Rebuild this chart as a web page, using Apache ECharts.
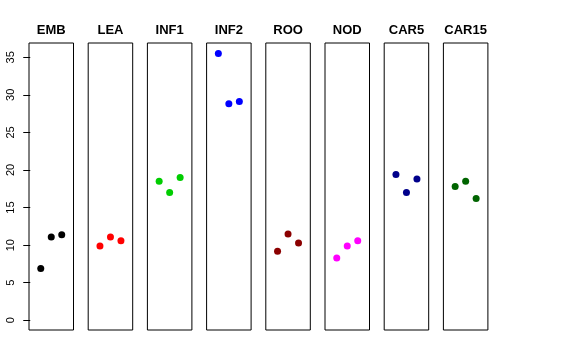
<!DOCTYPE html>
<html>
<head>
<meta charset="utf-8">
<script src="https://cdn.jsdelivr.net/npm/echarts@6/dist/echarts.min.js"></script>
<style>html,body{margin:0;padding:0;background:#fff}#c{width:576px;height:360px}</style>
</head>
<body>
<div id="c"></div>
<script>
const categories = ['EMB','LEA','INF1','INF2','ROO','NOD','CAR5','CAR15'];
const colors = ['#000000','#FF0000','#00CD00','#0000FF','#8B0000','#FF00FF','#00008B','#006400'];
const replicate = [1, 2, 3];
const values = [
  [6.9, 11.1, 11.4],
  [9.9, 11.1, 10.6],
  [18.5, 17.0, 19.0],
  [35.5, 28.8, 29.1],
  [9.2, 11.5, 10.3],
  [8.3, 9.9, 10.6],
  [19.4, 17.0, 18.8],
  [17.8, 18.5, 16.2]
];
const yTicks = [0, 5, 10, 15, 20, 25, 30, 35];

(function () {
const chart = echarts.init(document.getElementById('c'), null, {renderer: 'canvas'});
const grids = [], xAxes = [], yAxes = [], series = [], titles = [];
const left0 = 29, pitch = 59.2, pw = 44.5, ptop = 43, ph = 287;
categories.forEach((cat, i) => {
  const l = left0 + i * pitch;
  grids.push({left: l, top: ptop, width: pw, height: ph, show: true, borderColor: '#000', borderWidth: 1, backgroundColor: 'transparent'});
  xAxes.push({type: 'value', gridIndex: i, min: -0.12, max: 4.12, show: false});
  yAxes.push({
    type: 'value', gridIndex: i, min: -1.29, max: 36.9,
    show: i === 0,
    splitLine: {show: false},
    axisLine: {show: false},
    axisTick: {show: true, length: 7, lineStyle: {color: '#000'}, customValues: yTicks},
    axisLabel: {show: true, rotate: 90, margin: 13, fontSize: 11, color: '#000', fontFamily: 'Liberation Sans', customValues: yTicks}
  });
  series.push({
    type: 'scatter', xAxisIndex: i, yAxisIndex: i,
    data: values[i].map((v, j) => [replicate[j], v]),
    symbolSize: 7, itemStyle: {color: colors[i], opacity: 1},
    silent: true
  });
  titles.push({
    text: cat, left: l + pw / 2, top: 24, textAlign: 'center', padding: 0,
    textStyle: {fontSize: 13, fontWeight: 'bold', color: '#000', fontFamily: 'Liberation Sans'}
  });
});
chart.setOption({
  animation: false,
  title: titles,
  grid: grids,
  xAxis: xAxes,
  yAxis: yAxes,
  series: series
});
})();
</script>
</body>
</html>
